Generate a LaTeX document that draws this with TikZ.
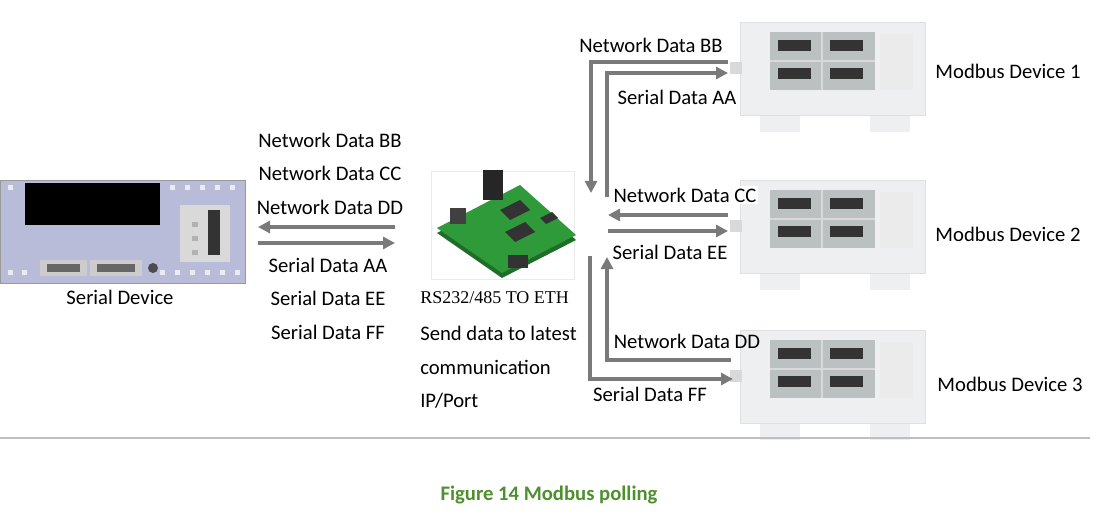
\documentclass[tikz,border=0pt]{standalone}
\usepackage{fontspec}
\setmainfont{Carlito}
\newfontfamily\monof{Liberation Serif}
\usetikzlibrary{arrows.meta}
\definecolor{arr}{HTML}{7A7A7A}
\definecolor{dev}{HTML}{B9BCD8}
\definecolor{mbg}{HTML}{EEEFF0}
\definecolor{mgrid}{HTML}{8E9598}
\definecolor{pcb}{HTML}{2E9A3A}
\definecolor{capg}{HTML}{4E8F2E}
\begin{document}
\begin{tikzpicture}[x=0.75pt,y=-0.75pt,
  lbl/.style={font=\fontsize{15.5}{18}\selectfont, inner sep=0pt},
  ar/.style={draw=arr, line width=2.3pt, -{Triangle[width=9pt,length=9pt]}},
  mb/.style={fill=mbg, draw=black!12},
]
\useasboundingbox (0,0) rectangle (1098,513);
% Serial device
\node[draw=black!40, fill=dev, minimum width=245*0.75pt, minimum height=103*0.75pt, inner sep=0pt, anchor=north west] (sd) at (0,180) {};
\fill[black] (25,183) rectangle (160,225);
\fill[black!15] (180,205) rectangle (230,262);
\fill[black!80] (208,210) rectangle (220,255);
\foreach \y in {222,236,250} \fill[black!30] (192,\y) rectangle (198,\y+5);
\fill[black!20] (40,260) rectangle (87,276);
\fill[black!20] (90,260) rectangle (142,276);
\fill[black!60] (47,264) rectangle (80,272);
\fill[black!60] (97,264) rectangle (135,272);
\fill[black!70] (153,268) circle (5);
\foreach \x in {8,170,185,200,215,230} \fill[white!70!dev] (\x,185) rectangle (\x+5,190);
\foreach \x in {8,22,160,175,190,205,220,235} \fill[white!70!dev] (\x,270) rectangle (\x+5,275);
\node[lbl] (sdl) at (120,297) {Serial Device};
% left labels & arrows
\node[lbl] (nbb) at (330,140) {Network Data BB};
\node[lbl] (ncc) at (330,173) {Network Data CC};
\node[lbl] (ndd) at (330,207) {Network Data DD};
\node[lbl] (saa) at (328,265) {Serial Data AA};
\node[lbl] (see) at (328,298) {Serial Data EE};
\node[lbl] (sff) at (328,332) {Serial Data FF};
\coordinate (l1) at (395,227); \coordinate (l2) at (258,227);
\coordinate (l3) at (258,243); \coordinate (l4) at (395,243);
\draw[ar] (l1) -- (l2);
\draw[ar] (l3) -- (l4);
% PCB
\node[draw=black!8, minimum width=143*0.75pt, minimum height=108*0.75pt, inner sep=0pt] (gw) at (503,225) {};
\fill[pcb!70!black] (437,233) -- (520,190) -- (576,240) -- (502,278) -- cycle;
\fill[pcb] (437,228) -- (520,185) -- (576,235) -- (502,273) -- cycle;
\fill[black!85] (483,170) rectangle (503,200);
\fill[black!75] (450,208) rectangle (466,224);
\fill[black!80] (500,210) -- (520,200) -- (530,210) -- (510,220) -- cycle;
\fill[black!80] (505,232) -- (525,222) -- (535,232) -- (515,242) -- cycle;
\fill[black!80] (540,218) -- (552,212) -- (558,218) -- (546,224) -- cycle;
\fill[black!80] (508,255) rectangle (528,268);
\node[font=\monof\fontsize{13.5}{16}\selectfont, inner sep=0pt, anchor=west] (t1) at (420,298) {RS232/485 TO ETH};
\node[lbl, anchor=west] (t2) at (420,333) {Send data to latest};
\node[lbl, anchor=west] (t3) at (420,367) {communication};
\node[lbl, anchor=west] (t4) at (420,401) {IP/Port};
% Modbus devices
\foreach \n/\yy in {1/22,2/180,3/330}{
  \begin{scope}[shift={(0,\yy)}]
  \fill[mbg] (760,90) rectangle (800,110);
  \fill[mbg] (870,90) rectangle (910,110);
  \node[mb, minimum width=185*0.75pt, minimum height=93*0.75pt, inner sep=0pt, anchor=north west] (m\n) at (740,0) {};
  \fill[mgrid!60] (770,10) rectangle (875,68);
  \draw[white!85!black, line width=1pt] (822,10) -- (822,68) (770,39) -- (875,39);
  \foreach \x in {778,830} \foreach \y in {18,46} \fill[black!80] (\x,\y) rectangle (\x+33,\y+11);
  \fill[black!8] (880,12) rectangle (913,68);
  \fill[black!15] (730,40) rectangle (742,52);
  \end{scope}}
\node[lbl] (d1) at (1008,71) {Modbus Device 1};
\node[lbl] (d2) at (1008,234) {Modbus Device 2};
\node[lbl] (d3) at (1010,384) {Modbus Device 3};
% right arrows
\coordinate (bb0) at (728,62); \coordinate (bb1) at (591,62); \coordinate (bb2) at (591,193);
\draw[ar] (bb0) -- (bb1) -- (bb2);
\coordinate (aa0) at (607,197); \coordinate (aa1) at (607,73); \coordinate (aa2) at (728,73);
\draw[ar] (aa0) -- (aa1) -- (aa2);
\coordinate (cc0) at (728,215); \coordinate (cc1) at (608,215);
\draw[ar] (cc0) -- (cc1);
\coordinate (ee0) at (608,231); \coordinate (ee1) at (728,231);
\draw[ar] (ee0) -- (ee1);
\coordinate (dd0) at (731,360); \coordinate (dd1) at (607,360); \coordinate (dd2) at (607,257);
\draw[ar] (dd0) -- (dd1) -- (dd2);
\coordinate (ff0) at (590,256); \coordinate (ff1) at (590,379); \coordinate (ff2) at (733,379);
\draw[ar] (ff0) -- (ff1) -- (ff2);
\node[lbl] (rbb) at (651,45) {Network Data BB};
\node[lbl] (raa) at (677,97) {Serial Data AA};
\node[lbl, fill=white, inner sep=1pt] (rcc) at (685,195) {Network Data CC};
\node[lbl] (ree) at (670,252) {Serial Data EE};
\node[lbl] (rdd) at (687,341) {Network Data DD};
\node[lbl] (rff) at (650,394) {Serial Data FF};
% rule and caption
\coordinate (r0) at (0,438); \coordinate (r1) at (1090,438);
\draw[black!25, line width=1pt] (r0) -- (r1);
\node[font=\bfseries\fontsize{15.5}{18}\selectfont, text=capg, inner sep=0pt] (cap) at (549,495) {Figure 14 Modbus polling};
\end{tikzpicture}
\end{document}
